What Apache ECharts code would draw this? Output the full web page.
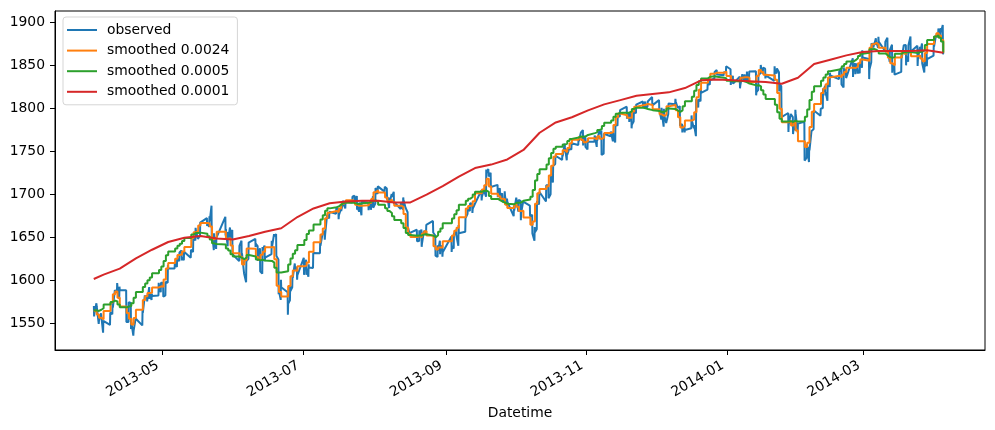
<!DOCTYPE html>
<html><head><meta charset="utf-8">
<script src="https://cdn.jsdelivr.net/npm/echarts@6/dist/echarts.min.js"></script>
<style>html,body{margin:0;padding:0;background:#fff}#c{width:995px;height:430px}</style>
</head><body><div id="c"></div>
<script>
// Trading calendar (NYSE sessions Apr 1 2013 .. Apr 4 2014)
const holidays = ['2013-05-27','2013-07-04','2013-09-02','2013-11-28','2013-12-25','2014-01-01','2014-01-20','2014-02-17'];

// observed: daily high / low / close (one value per trading session)
const obsHigh = [1570.6,1573.7,1571.8,1562,1553.3,1563,1575,1589,1597.3,1593,1589,1575,1574,1554,1556,1565.5,1583,1583,1592.6,1585,1597.6,1597.6,
1597.6,1598.6,1618.5,1619.8,1626,1632.8,1635,1633.7,1636,1651.1,1661.5,1660.5,1667.5,1672.8,1674.9,1687.2,1655,1649.8,1674.2,1656.6,1661.9,1659,
1640.4,1646.5,1629.3,1622.6,1644.4,1648.7,1640.1,1637.7,1639.3,1640.8,1646.5,1654.2,1654.2,1624.6,1601,1586.5,1593.8,1606.9,1620,1615.9,
1626.6,1624.3,1619,1632.1,1644.7,1654.2,1657.9,1676.6,1680.2,1684.5,1684,1683.4,1693.1,1692.1,1697.6,1698.8,1698.4,1690.9,1691.7,1690.9,1693.2,1698.4,
1707.9,1709.7,1709.2,1707.1,1696.8,1700.8,1703.3,1691.5,1696.8,1693.4,1679.6,1663.6,1659.2,1658.6,1659.6,1657.9,1664.8,1669.5,1652.5,1641.2,1646.4,1640.6,
1651.4,1655.7,1659.1,1664.8,1672.4,1684.1,1690,1689.6,1688.9,1705,1705.5,1729.4,1729.9,1725.5,1711.4,1707.6,1701.7,1703.9,1695.5,1687.3,
1696.6,1693.9,1692.8,1691.9,1687.4,1676.8,1662.5,1692.6,1703.4,1711,1711,1721.8,1733.4,1745.3,1747.8,1759.3,1752.7,1753.7,1759.8,1765,1772.1,1775.2,1768.5,
1765.7,1768.8,1767.6,1774.5,1774.5,1770.8,1773.4,1771.8,1782,1791.5,1798.2,1802.3,1795.5,1795.7,1797.2,1804.8,1808.4,1808.4,1808.4,1813.6,
1810,1801,1799.8,1792.2,1806,1811.5,1808.4,1803,1782.1,1780,1792.2,1786.8,1811,1810.9,1823.8,1829.8,1833.3,1842.8,1844.9,1842.5,1849.4,
1845.9,1838.2,1837.2,1840.1,1840,1843.2,1843.2,1843.5,1839.3,1850.8,1847.6,1846.5,1849.3,1846.9,1842.3,1826.1,1795,1793.9,1790.2,1798.8,1793.9,
1784.8,1758.7,1755.8,1774.1,1798,1799.9,1823.5,1826.6,1830.3,1841.7,1842.9,1847.5,1848,1846.1,1858.7,1852.9,1852.7,1854.5,1867.9,
1857.7,1876.2,1876.5,1881.9,1883.6,1877.9,1882.4,1868.4,1874.4,1852.4,1862.3,1873.8,1874.1,1873.5,1884,1873.3,1871.9,1875.9,1855.5,1866.6,1875.2,
1885.8,1893.2,1893.8,1897.3];
const obsLow = [1558.5,1561.5,1549.8,1552.5,1539.5,1548.6,1561,1569,1586,1579,1552,1552,1543.7,1536,1540,1548,1562.5,1575.8,1578.9,1577.6,1582.8,1586.5,
1581.3,1582.8,1597.6,1614.2,1616,1622.7,1623.6,1623.7,1626.7,1633.4,1646.7,1648.6,1652.5,1663.5,1662.7,1648.9,1635.5,1636.9,1652.6,1640,1648.6,1630.7,
1622.7,1623.6,1608.7,1598.2,1625.3,1639.3,1622.9,1610.9,1608.1,1622.7,1630.9,1639.8,1628.9,1584.3,1577.7,1560.3,1577.1,1592.4,1603.3,1601.1,
1606.8,1606.8,1604.6,1614.7,1631.9,1640.5,1647.7,1653,1672.3,1677.9,1671.4,1676.7,1681.8,1684.1,1690.9,1691.9,1682.6,1680.3,1676,1681.9,1682.4,1684.9,
1689.6,1700.7,1703.6,1694,1684.5,1690.9,1689,1683.4,1682.6,1684.9,1658.6,1652.6,1645.8,1646.1,1639.4,1645.1,1654.8,1656,1629.1,1627.5,1630.9,1628,
1633.4,1637.4,1653.1,1640.6,1656.9,1677.8,1681,1678.7,1682.2,1693.3,1697.5,1697.6,1721.1,1708.9,1697.1,1694.9,1691.9,1693.1,1687.1,1675,
1682.1,1680.3,1670.4,1677.1,1674.7,1655,1646.5,1659.8,1688.6,1692.1,1695.9,1700.4,1714.1,1735.7,1740.4,1746.2,1740,1745.5,1752.5,1757.7,1764.4,1757.2,1755.7,
1752.7,1761.6,1755.6,1765.3,1746.2,1747.6,1767.9,1762,1760.6,1780.2,1790.8,1788.4,1784.7,1777.2,1785,1794.7,1800.8,1800.6,1802.3,1803.9,
1798.7,1787.3,1779.1,1783.4,1793.9,1805.3,1800.8,1780.1,1772.3,1772.5,1777.2,1777.2,1768,1801.4,1808.7,1822.3,1828,1835,1839.8,1838.8,1842.4,
1827.7,1829.1,1823.7,1828.7,1831.4,1830.4,1832.4,1815.5,1821.9,1841.3,1840.7,1835.2,1832.4,1840.9,1820.1,1790.3,1772.9,1781.9,1770.5,1778,1772.3,
1739.7,1743.1,1737.9,1752.6,1776,1791.8,1800.8,1815.3,1809.2,1825.3,1834.4,1828.2,1824.6,1835.6,1836.8,1840.2,1840.7,1841.1,1847.7,
1834.4,1854,1871.1,1874.2,1870.6,1867.1,1863.1,1854.4,1841.9,1839.6,1842.8,1858.9,1850.4,1854.6,1863.5,1849.7,1856,1852.6,1842.1,1849.3,1861.7,
1872.3,1883.8,1882.7,1863.3];
const obsClose = [1562.2,1570.3,1553.7,1560,1553.3,1563.1,1568.6,1587.7,1593.4,1588.9,1552.4,1574.6,1552,1541.6,1555.3,1562.5,1578.8,1578.8,1585.2,1582.2,1593.6,1597.6,
1582.7,1597.6,1614.4,1617.5,1626,1632.7,1626.7,1633.7,1633.8,1650.3,1658.8,1650.5,1667.5,1666.3,1669.2,1655.4,1650.5,1649.6,1660.1,1648.4,1654.4,1630.7,
1640.4,1631.4,1608.9,1622.6,1643.4,1642.8,1626.1,1612.5,1636.4,1626.7,1639,1651.8,1628.9,1588.2,1592.4,1573.1,1588,1603.3,1613.2,1606.3,
1615,1614.1,1615.4,1631.9,1640.5,1652.3,1652.6,1675,1680.2,1682.5,1676.3,1680.9,1689.4,1692.1,1695.5,1692.4,1685.9,1690.3,1691.7,1685.3,1686,1685.7,
1706.9,1709.7,1707.1,1697.4,1690.9,1697.5,1691.4,1689.5,1694.2,1685.4,1661.3,1655.8,1646.1,1652.4,1642.8,1657,1663.5,1656.8,1630.5,1635,1638.2,1633,
1639.8,1653.1,1655.1,1655.2,1671.7,1684,1689.1,1683.4,1688,1697.6,1704.8,1725.5,1722.3,1709.9,1701.8,1697.4,1692.8,1698.7,1691.8,1681.6,
1695,1693.9,1678.7,1690.5,1676.1,1655.5,1656.4,1692.6,1703.2,1710.1,1698.1,1721.5,1733.2,1744.5,1744.7,1754.7,1746.4,1752.1,1759.8,1762.1,1772,1763.3,1756.5,
1761.6,1767.9,1763,1770.5,1747.2,1770.6,1771.9,1767.7,1782,1790.6,1798.2,1791.5,1787.9,1781.4,1795.9,1804.8,1802.5,1802.8,1807.2,1805.8,
1800.9,1795.2,1792.8,1785,1805.1,1808.4,1802.6,1782.2,1775.5,1775.3,1786.5,1781,1810.7,1809.6,1818.3,1828,1833.3,1842,1841.4,1841.1,1848.4,
1832,1831.4,1826.8,1837.9,1837.5,1838.1,1842.4,1819.2,1838.9,1848.4,1845.9,1838.7,1843.8,1844.9,1828.5,1790.3,1781.6,1792.5,1774.2,1794.2,1782.6,
1741.9,1755.2,1751.6,1773.4,1797,1799.8,1819.8,1819.3,1829.8,1838.6,1840.8,1828.8,1839.8,1836.3,1847.6,1845.1,1845.2,1854.3,1859.5,
1845.7,1873.9,1873.8,1877,1878,1877.2,1867.6,1868.2,1846.3,1841.1,1858.8,1872.3,1860.8,1872,1866.5,1857.4,1865.6,1852.6,1849,1857.6,1872.3,
1885.5,1890.9,1888.8,1865.1];

// smoothed 0.0024: first value at the first open, then one value per session close
const smooth0024 = [1564.4,1565.3,1560.6,1556.9,1555.1,1564.7,1574.5,1584.1,1587.4,1580.2,1570,1562.5,1555.6,1549,1556.7,1566.2,1577.6,1581.8,1585.8,1585.9,1592.2,1593.5,1592.9,
1601.5,1614.3,1620.5,1625.5,1629.8,1630.5,1633.8,1639.1,1649.5,1656.4,1657.6,1664.3,1667.1,1666.5,1663,1648.2,1650,1656.9,1648.8,1649.4,1641,1631.9,
1627.9,1618.9,1623.7,1637.5,1637.2,1627.5,1624.3,1630.2,1633.7,1639,1639.2,1625,1594.1,1586.8,1581.6,1593.9,1605.3,1611.9,1611.4,1616.7,
1617.6,1621.2,1633.6,1644.8,1653.6,1660.6,1672.5,1679,1681,1679.9,1683.9,1689.3,1691,1693.6,1691.9,1688.2,1687.1,1687,1687.7,1690.3,1695,1702.9,
1705,1702.6,1696.6,1692.2,1694.5,1691.7,1687.2,1685.7,1677.4,1661.8,1654.7,1650.8,1651.6,1650.4,1655,1657.6,1652.5,1640,1636.2,1638.6,1638.7,1645.9,
1652.4,1658.1,1661.6,1673.8,1684,1686.9,1687.3,1692.4,1701.6,1706,1711,1718.4,1709.4,1701.2,1698.1,1695.2,1694.7,1688.7,1684.4,1689.1,
1686,1680.9,1681.3,1673.6,1665,1668.9,1689.6,1701.6,1706.6,1709.9,1722.3,1733.7,1744,1747.3,1751.8,1749.5,1754.2,1759.9,1763.8,1767.1,1763.5,1761,1762.2,
1765.5,1764.5,1768.1,1765,1766.5,1771.8,1772.7,1780.9,1790.1,1794.3,1792.3,1789.4,1789.5,1796.6,1802.4,1804.1,1804.5,1805.4,1804.4,1799.3,
1793.4,1791.7,1793.2,1802.7,1804.3,1798.3,1790,1778,1780,1786.2,1787.4,1796,1813.2,1822.1,1830.1,1835.2,1840.7,1841.9,1841.8,1843.2,1838,
1832.5,1831.9,1836,1836.5,1836.7,1836,1830.9,1838,1845.1,1842.6,1839.5,1838.6,1833.8,1818.2,1800,1784.2,1785.8,1780.6,1784,1774.5,1762,
1755.6,1760.4,1778.6,1796.4,1805.6,1818.2,1823.6,1828.5,1836.4,1838.3,1836.7,1839.5,1842.6,1847.5,1847.3,1848.9,1852.9,1857.3,1855.8,
1870.8,1874.9,1876.5,1874.8,1871,1866.3,1859.3,1852.7,1850.4,1859.4,1866.6,1863.9,1866.9,1867.2,1860.9,1862,1858.3,1855.2,1864.8,1875.3,1883.8,
1887.6,1885,1880,1865];

// smoothed 0.0005: same sampling as above
const smooth0005 = [1565.2,1565.5,1564.8,1566.2,1568,1572.2,1575.3,1576.9,1575.8,1572.2,1569,1570,1570.6,1573.7,1580.2,1586.7,1592.8,1596.7,1600.5,1603.8,1608.7,1612.5,1616.6,
1623,1629.6,1633.8,1637.4,1640.6,1643,1646.2,1649.7,1653.6,1655.5,1655.4,1655.9,1654.5,1651.6,1647.8,1643.4,1642.6,1642,1637.5,1635.1,1630.7,1628,
1626.6,1625,1627.1,1629.8,1628.1,1624.7,1623.6,1624.3,1623.5,1623,1621,1615,1609.5,1609.5,1611,1618.7,1625.8,1631.3,1635.5,1641.6,
1647.2,1654.2,1658.3,1665.4,1671.2,1676.1,1681.2,1684.1,1685.5,1686.4,1688.4,1690.2,1690.7,1691,1690.2,1689.3,1689.4,1689.9,1690.6,1691.6,1692.6,1693.3,
1691.5,1688.2,1684.2,1680.9,1678.8,1674.9,1670.6,1666.7,1661.3,1655.5,1653.1,1652.2,1652.6,1652.6,1653.8,1653.9,1652.4,1650.5,1652.8,1656.8,1660.8,1666.7,
1672.2,1677.3,1682,1688.3,1693,1695.4,1697.3,1700.3,1703.4,1704.4,1704.8,1703.2,1698.6,1695.1,1693.3,1691.8,1691,1689.4,1688.9,1690.6,
1690.5,1690.8,1693,1694.4,1697.7,1705.4,1716.4,1724,1729.6,1735.1,1742.4,1748.5,1753.3,1755.8,1758.3,1759.4,1762.3,1764.9,1766.6,1767.7,1767.3,1767.8,1769.5,
1771.6,1772.8,1775.2,1776.3,1779.9,1783.6,1786.4,1790.6,1794,1795.4,1795.3,1795.6,1797,1799.7,1801.2,1801.1,1800.5,1799.7,1798.3,1797.4,
1796.1,1796.4,1797.7,1800.1,1799.7,1797.8,1796.4,1798.1,1802.8,1808.7,1813.8,1820.8,1827.5,1831.9,1835.2,1837.1,1837.7,1837.2,1836.1,1835.1,1832.6,
1832,1831.8,1832.4,1831.7,1830.7,1829.3,1827.1,1827.3,1826,1821.5,1816.4,1811.2,1804.5,1795.8,1788.2,1785.1,1785.5,1784.6,1786,1785,1785.5,
1790.6,1799,1810.1,1819.7,1826.1,1832.5,1836.4,1839.9,1843.6,1845.5,1846.8,1849.4,1852,1854.8,1856.4,1858.6,1861.3,1863.8,1865,
1869.2,1869.5,1868.6,1866.6,1864.2,1862,1860,1859.1,1860.2,1863.8,1865.9,1865.3,1866.1,1866,1864.7,1866,1866.4,1868.1,1874.1,1879.8,1883.9,
1885.2,1882.5,1878,1865];

// smoothed 0.0001: read weekly
const smooth0001Dates = ['2013-04-01T09:30','2013-04-05','2013-04-12','2013-04-19','2013-04-26','2013-05-03','2013-05-10','2013-05-17','2013-05-24','2013-05-31',
'2013-06-07','2013-06-14','2013-06-21','2013-06-28','2013-07-05','2013-07-12','2013-07-19','2013-07-26','2013-08-02','2013-08-09','2013-08-16','2013-08-23','2013-08-30',
'2013-09-06','2013-09-13','2013-09-20','2013-09-27','2013-10-04','2013-10-11','2013-10-18','2013-10-25','2013-11-01','2013-11-08','2013-11-15','2013-11-22','2013-11-29',
'2013-12-06','2013-12-13','2013-12-20','2013-12-27','2014-01-03','2014-01-10','2014-01-17','2014-01-24','2014-01-31','2014-02-07','2014-02-14','2014-02-21','2014-02-28',
'2014-03-07','2014-03-14','2014-03-21','2014-03-28','2014-04-04'];
const smooth0001 = [1602,1607,1614,1626,1636,1645,1650,1652,1649,1648,
1652,1657,1661,1674,1684,1690,1692,1693,1693,1691,1691,1700,1710,
1721,1731,1735,1741,1752,1772,1784,1790,1798,1805,1810,1815,1817,
1819,1824,1833,1834,1833,1832,1831,1829,1836,1852,1857,1862,1866,
1867,1867,1867,1868,1865];

const yTicks = [1550,1600,1650,1700,1750,1800,1850,1900];
const xTickMonths = ['2013-05','2013-07','2013-09','2013-11','2014-01','2014-03'];

// ---------- build ----------
function pad(n){return (n<10?'0':'')+n;}
const sessions = [];
for (let d = new Date(2013,3,1); d <= new Date(2014,3,4); d = new Date(d.getFullYear(), d.getMonth(), d.getDate()+1)) {
  const wd = d.getDay();
  if (wd === 0 || wd === 6) continue;
  const s = d.getFullYear()+'-'+pad(d.getMonth()+1)+'-'+pad(d.getDate());
  if (holidays.indexOf(s) >= 0) continue;
  sessions.push([d.getFullYear(), d.getMonth(), d.getDate()]);
}
function t(y,m,d,h,mi){return new Date(y,m,d,h,mi).getTime();}

const obsData = [];
sessions.forEach((s,i)=>{
  const H = obsHigh[i], L = obsLow[i], C = obsClose[i];
  const highFirst = C < (H+L)/2;
  obsData.push([t(s[0],s[1],s[2],10,30), highFirst ? H : L]);
  obsData.push([t(s[0],s[1],s[2],13,0), highFirst ? L : H]);
  obsData.push([t(s[0],s[1],s[2],16,0), C]);
});
const smTimes = [t(2013,3,1,9,30)].concat(sessions.map(s=>t(s[0],s[1],s[2],16,0)));
const s24 = smooth0024.map((v,i)=>[smTimes[i], v]);
const s05 = smooth0005.map((v,i)=>[smTimes[i], v]);
function parseD(str){
  const p = str.split('T'); const a = p[0].split('-').map(Number);
  let h = 16, mi = 0;
  if (p[1]) { const b = p[1].split(':').map(Number); h = b[0]; mi = b[1]; }
  return t(a[0], a[1]-1, a[2], h, mi);
}
const s01 = smooth0001.map((v,i)=>[parseD(smooth0001Dates[i]), v]);
const xTickVals = xTickMonths.map(m=>{const a=m.split('-').map(Number); return t(a[0],a[1]-1,1,0,0);});

const FONT = 'DejaVu Sans';
const chart = echarts.init(document.getElementById('c'), null, {renderer:'canvas'});
chart.setOption({
  animation: false,
  backgroundColor: '#fff',
  grid: {left:55, right:10, top:11, bottom:80, show:true, borderColor:'#000', borderWidth:1, backgroundColor:'transparent'},
  legend: {
    orient:'vertical', left:63, top:17, icon:'rect', itemWidth:30, itemHeight:2, itemGap:6.6,
    padding:[6,8,6,4], backgroundColor:'#fff', borderColor:'#d5d5d5', borderWidth:1, borderRadius:3,
    textStyle:{fontFamily:FONT, fontSize:13.9, lineHeight:14, color:'#000', padding:[0,0,0,5]},
    data:['observed','smoothed 0.0024','smoothed 0.0005','smoothed 0.0001']
  },
  xAxis: {
    type:'value',
    min: t(2013,2,15,14,10), max: t(2014,3,22,18,0),
    axisLine:{show:true, lineStyle:{color:'#000', width:1}},
    axisTick:{show:true, length:5, lineStyle:{color:'#000'}, customValues: xTickVals},
    axisLabel:{rotate:30, fontFamily:FONT, fontSize:13.9, color:'#000', margin:12, padding:[0,5,0,0],
      customValues: xTickVals,
      formatter: function(v){const d=new Date(v); return d.getFullYear()+'-'+pad(d.getMonth()+1);}},
    splitLine:{show:false},
    name:'Datetime', nameLocation:'middle', nameGap:54,
    nameTextStyle:{fontFamily:FONT, fontSize:13.9, color:'#000'}
  },
  yAxis: {
    type:'value', min:1519.4, max:1913.6,
    axisLine:{show:true, lineStyle:{color:'#000', width:1}},
    axisTick:{show:true, length:5, lineStyle:{color:'#000'}, customValues: yTicks},
    axisLabel:{fontFamily:FONT, fontSize:13.9, color:'#000', margin:10, customValues: yTicks,
      formatter: function(v){return String(v);}},
    splitLine:{show:false}
  },
  series: [
    {name:'observed', type:'line', data: obsData, symbol:'none', color:'#1f77b4', lineStyle:{width:2, color:'#1f77b4'}, sampling:null},
    {name:'smoothed 0.0024', type:'line', data: s24, step:'end', symbol:'none', color:'#ff7f0e', lineStyle:{width:2, color:'#ff7f0e'}},
    {name:'smoothed 0.0005', type:'line', data: s05, step:'end', symbol:'none', color:'#2ca02c', lineStyle:{width:2, color:'#2ca02c'}},
    {name:'smoothed 0.0001', type:'line', data: s01, symbol:'none', color:'#d62728', lineStyle:{width:2, color:'#d62728'}}
  ]
});
</script></body></html>
